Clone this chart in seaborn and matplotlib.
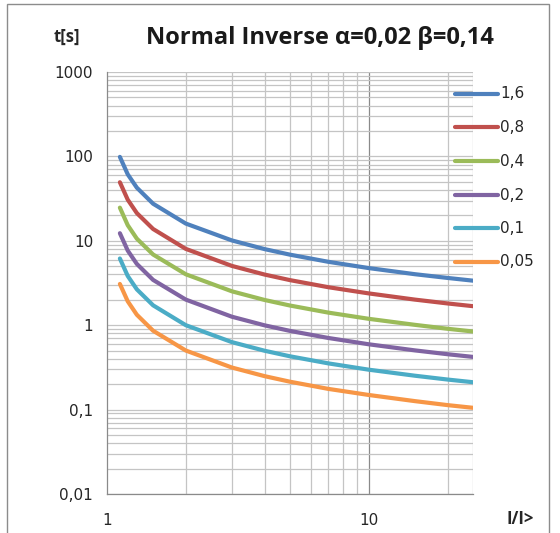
import matplotlib
matplotlib.use("Agg")
import matplotlib.pyplot as plt
from matplotlib.patches import Rectangle
from matplotlib.ticker import LogLocator, NullFormatter, FixedLocator, FixedFormatter
import seaborn as sns
import pandas as pd

# Multiples of the pickup current I/I>
current = [1.12, 1.2, 1.3, 1.5, 2, 3, 4, 5, 7, 10, 15, 20, 25]

# Trip times t[s] for each time multiplier setting
t_16 = [98.7, 61.3, 42.6, 27.5, 16.0, 10.1, 7.97, 6.85, 5.64, 4.75, 4.02, 3.63, 3.37]
t_08 = [49.4, 30.7, 21.3, 13.8, 8.02, 5.04, 3.98, 3.42, 2.82, 2.38, 2.01, 1.81, 1.68]
t_04 = [24.7, 15.3, 10.6, 6.88, 4.01, 2.52, 1.99, 1.71, 1.41, 1.19, 1.01, 0.907, 0.842]
t_02 = [12.3, 7.66, 5.32, 3.44, 2.01, 1.26, 0.996, 0.856, 0.706, 0.594, 0.503, 0.453, 0.421]
t_01 = [6.17, 3.83, 2.66, 1.72, 1.00, 0.630, 0.498, 0.428, 0.353, 0.297, 0.252, 0.227, 0.211]
t_005 = [3.08, 1.92, 1.33, 0.860, 0.501, 0.315, 0.249, 0.214, 0.176, 0.149, 0.126, 0.113, 0.105]

series_names = ["1,6", "0,8", "0,4", "0,2", "0,1", "0,05"]
series_values = [t_16, t_08, t_04, t_02, t_01, t_005]
colors = ["#4F81BD", "#C0504D", "#9BBB59", "#8064A2", "#4BACC6", "#F79646"]

y_ticks = [0.01, 0.1, 1, 10, 100, 1000]
y_labels = ["0,01", "0,1", "1", "10", "100", "1000"]
x_ticks = [1, 10]
x_labels = ["1", "10"]

rows = []
for name, vals in zip(series_names, series_values):
    for x, y in zip(current, vals):
        rows.append({"I": x, "t": y, "TMS": name})
df = pd.DataFrame(rows)

sns.set_theme(style="white")
plt.rcParams["font.family"] = ["DejaVu Sans"]

fig = plt.figure(figsize=(5.6, 5.33), dpi=100)
ax = fig.add_axes([107 / 560, 1 - 494 / 533, (473 - 107) / 560, (494 - 72) / 533])

# outer chart frame
fig.patches.append(Rectangle((7 / 560, -0.05), (549 - 7) / 560, 1.05 - 4 / 533,
                             transform=fig.transFigure, fill=False,
                             edgecolor="#8c8c8c", linewidth=1.0))

sns.lineplot(data=df, x="I", y="t", hue="TMS", palette=colors, hue_order=series_names,
             linewidth=3.0, ax=ax, legend=False, sort=False, estimator=None)

ax.set_xscale("log")
ax.set_yscale("log")
ax.set_xlim(1, 25)
ax.set_ylim(0.01, 1000)
ax.set_xlabel("")
ax.set_ylabel("")

# grid
minor_x = [2, 3, 4, 5, 6, 7, 8, 9, 20]
grid_col = "#c4c4c4"
for xv in minor_x:
    ax.axvline(xv, color=grid_col, linewidth=0.9, zorder=0)
ax.axvline(10, color="#8a8a8a", linewidth=0.9, zorder=0)
ax.axvline(25, color=grid_col, linewidth=0.9, zorder=0)
for dec in [0.01, 0.1, 1, 10, 100]:
    for m in range(1, 10):
        ax.axhline(dec * m, color=grid_col, linewidth=0.9, zorder=0)
ax.axhline(1000, color=grid_col, linewidth=0.9, zorder=0)

ax.yaxis.set_major_locator(FixedLocator(y_ticks))
ax.yaxis.set_major_formatter(FixedFormatter(y_labels))
ax.yaxis.set_minor_locator(LogLocator(base=10, subs=range(2, 10)))
ax.yaxis.set_minor_formatter(NullFormatter())
ax.xaxis.set_major_locator(FixedLocator(x_ticks))
ax.xaxis.set_major_formatter(FixedFormatter(x_labels))
ax.xaxis.set_minor_locator(FixedLocator(minor_x + [25]))
ax.xaxis.set_minor_formatter(NullFormatter())

ax.tick_params(axis="both", which="both", direction="out", color="#8a8a8a",
               labelsize=11, labelcolor="#262626")
ax.tick_params(axis="y", which="major", length=6, width=0.9, pad=4)
ax.tick_params(axis="y", which="minor", length=3, width=0.9)
ax.tick_params(axis="x", which="major", length=5, width=0.9, pad=9)
ax.tick_params(axis="x", which="minor", length=5, width=0.9)

for side in ["top", "right"]:
    ax.spines[side].set_visible(False)
for side in ["left", "bottom"]:
    ax.spines[side].set_color("#8a8a8a")
    ax.spines[side].set_linewidth(0.9)

# legend drawn as line samples with labels
leg_y = [94, 127, 161, 195, 228, 262]
for name, col, yp in zip(series_names, colors, leg_y):
    yf = 1 - yp / 533
    fig.add_artist(plt.Line2D([455 / 560, 498 / 560], [yf, yf], color=col,
                              linewidth=3.0, transform=fig.transFigure))
    fig.text(500 / 560, yf, name, fontsize=11, color="#262626",
             va="center", ha="left")

fig.text(320 / 560, 1 - 38 / 533, "Normal Inverse α=0,02 β=0,14", fontsize=17,
         fontweight="bold", ha="center", va="center", family=["Open Sans", "DejaVu Sans"],
         color="#1a1a1a")
fig.text(67 / 560, 1 - 37 / 533, "t[s]", fontsize=12, fontweight="bold",
         ha="center", va="center", family=["Open Sans", "DejaVu Sans"], color="#262626")
fig.text(520 / 560, 1 - 519 / 533, "I/I>", fontsize=12, fontweight="bold",
         ha="center", va="center", family=["Open Sans", "DejaVu Sans"], color="#262626")

fig.savefig("out.png", dpi=100)
